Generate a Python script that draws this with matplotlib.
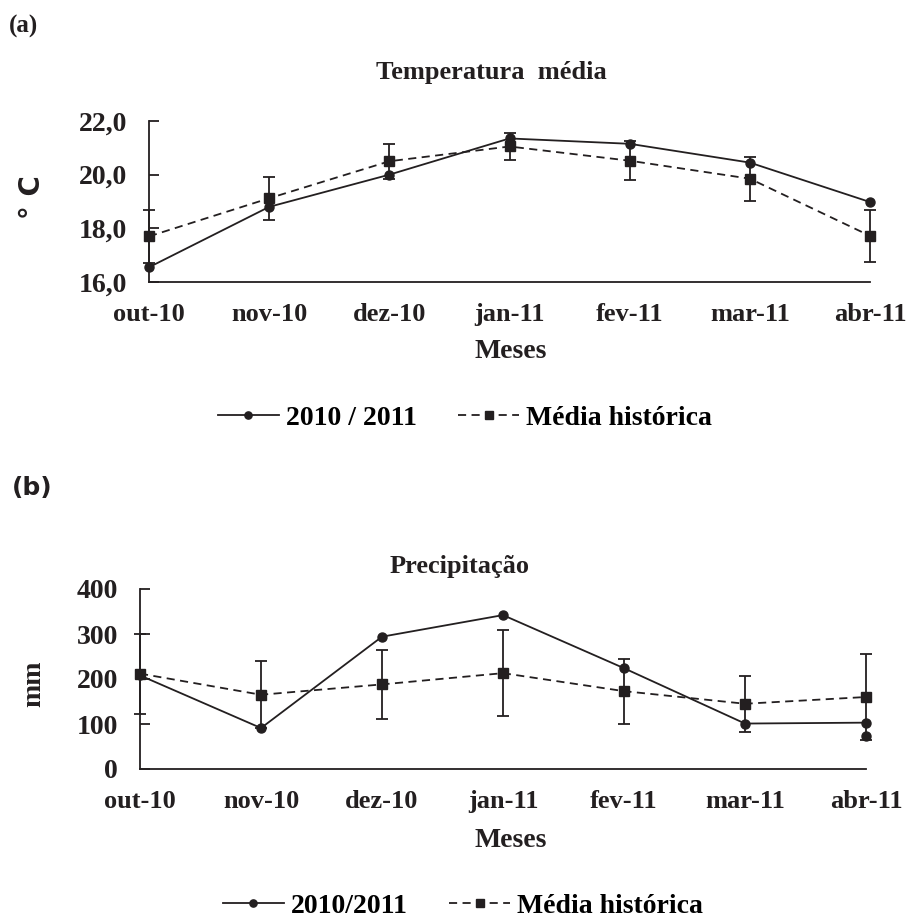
import numpy as np
import matplotlib
matplotlib.use("Agg")
import matplotlib.pyplot as plt

# meses e valores
meses = ["out-10", "nov-10", "dez-10", "jan-11", "fev-11", "mar-11", "abr-11"]

temp_2010 = [16.55, 18.8, 20.0, 21.35, 21.15, 20.45, 18.98]
temp_hist = [17.7, 19.12, 20.5, 21.05, 20.52, 19.85, 17.72]
temp_err = [0.98, 0.8, 0.65, 0.52, 0.72, 0.82, 0.97]

prec_2010 = [208, 91, 294, 342, 224, 101, 103]
prec_hist = [212, 165, 188, 213, 173, 145, 160]
prec_err = [89, 74, 77, 95, 72, 62, 95]
prec_extra = [73]  # ponto solto em abr-11

W, H = 908, 922
ink = "#231f20"
serif = "Liberation Serif"

plt.rcParams["font.family"] = serif
plt.rcParams["font.weight"] = "bold"

fig = plt.figure(figsize=(W / 100, H / 100), dpi=100)


def fx(x):
    return x / W


def fy(y):
    return 1 - y / H


def panel(rect, y2010, yhist, yerr, ylim, yticks, ylabels):
    l, t, r, b = rect
    ax = fig.add_axes([fx(l), fy(b), fx(r - l), (b - t) / H])
    x = np.arange(len(meses))
    ax.errorbar(x, yhist, yerr=yerr, fmt="none", ecolor=ink,
                elinewidth=1.3, capsize=4, capthick=1.3, zorder=2)
    l1, = ax.plot(x, y2010, "-", color=ink, lw=1.3, marker="o", ms=6.5,
                  mfc=ink, mec=ink, zorder=3, label="2010 / 2011")
    l2, = ax.plot(x, yhist, color=ink, lw=1.3, ls=(0, (4.5, 3)), marker="s",
                  ms=6.5, mfc=ink, mec=ink, zorder=3, label="Média histórica")
    ax.set_xlim(0, len(meses) - 1)
    ax.set_ylim(*ylim)
    ax.set_yticks(yticks)
    ax.set_yticklabels(ylabels)
    ax.set_xticks(x)
    ax.set_xticklabels(meses)
    for s in ["top", "right"]:
        ax.spines[s].set_visible(False)
    for s in ["left", "bottom"]:
        ax.spines[s].set_color(ink)
        ax.spines[s].set_linewidth(1.3)
    ax.tick_params(axis="y", direction="in", length=7, width=1.3, color=ink,
                   pad=16, labelsize=20, labelcolor=ink)
    ax.tick_params(axis="x", length=0, pad=15, labelsize=19, labelcolor=ink)
    for lab in ax.get_xticklabels() + ax.get_yticklabels():
        lab.set_fontweight("bold")
    for art in ax.lines + ax.collections:
        art.set_clip_on(False)
    return ax, l1, l2


# (a) temperatura
ax1, a1, a2 = panel((149, 121, 870, 282), temp_2010, temp_hist, temp_err,
                    (16, 22), [16, 18, 20, 22], ["16,0", "18,0", "20,0", "22,0"])
fig.text(fx(9), fy(26), "(a)", fontsize=18, fontweight="bold", color=ink,
         ha="left", va="center")
fig.text(fx(491), fy(73), "Temperatura  média", fontsize=19, fontweight="bold",
         color=ink, ha="center", va="center")
fig.text(fx(32), fy(197), "° C", fontsize=20, fontweight="bold", color=ink,
         family="DejaVu Sans", rotation=90, ha="center", va="center")
fig.text(fx(511), fy(352), "Meses", fontsize=20, fontweight="bold", color=ink,
         ha="center", va="center")
fig.legend(handles=[a1, a2], labels=["2010 / 2011", "Média histórica"],
           loc="center", bbox_to_anchor=(fx(465), fy(418)), ncol=2,
           frameon=False, fontsize=20, handlelength=2.2, handletextpad=0.25,
           columnspacing=1.5, numpoints=1, markerscale=0.8)

# (b) precipitacao
ax2, b1, b2 = panel((140, 589, 866, 769), prec_2010, prec_hist, prec_err,
                    (0, 400), [0, 100, 200, 300, 400],
                    ["0", "100", "200", "300", "400"])
ax2.plot([len(meses) - 1], prec_extra, "o", color=ink, ms=6.5, clip_on=False,
         zorder=3)
fig.text(fx(12), fy(488), "(b)", fontsize=18, fontweight="bold", color=ink,
         family="DejaVu Sans", ha="left", va="center")
fig.text(fx(460), fy(567), "Precipitação", fontsize=19, fontweight="bold",
         color=ink, ha="center", va="center")
fig.text(fx(34), fy(684), "mm", fontsize=20, fontweight="bold", color=ink,
         rotation=90, ha="center", va="center")
fig.text(fx(511), fy(840), "Meses", fontsize=20, fontweight="bold", color=ink,
         ha="center", va="center")
fig.legend(handles=[b1, b2], labels=["2010/2011", "Média histórica"],
           loc="center", bbox_to_anchor=(fx(463), fy(906)), ncol=2,
           frameon=False, fontsize=20, handlelength=2.2, handletextpad=0.25,
           columnspacing=1.5, numpoints=1, markerscale=0.8)

fig.savefig("out.png", dpi=100)
